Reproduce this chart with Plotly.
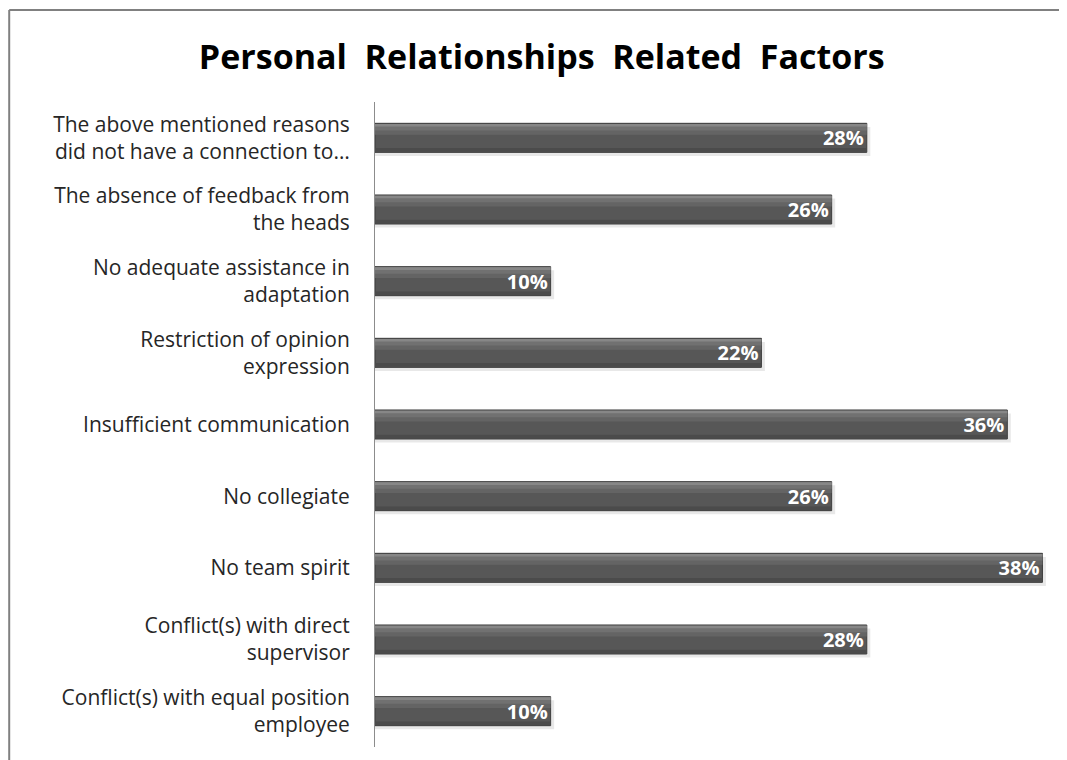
import plotly.graph_objects as go

categories = [
    "The above mentioned reasons<br>did not have a connection to…",
    "The absence of feedback from<br>the heads",
    "No adequate assistance in<br>adaptation",
    "Restriction of opinion<br>expression",
    "Insufficient communication",
    "No collegiate",
    "No team spirit",
    "Conflict(s) with direct<br>supervisor",
    "Conflict(s) with equal position<br>employee",
]
values = [28, 26, 10, 22, 36, 26, 38, 28, 10]
title_text = "Personal  Relationships  Related  Factors"

W = 0.405
FONT = "'Open Sans', 'Noto Sans', sans-serif"


def band(width, offset, color):
    return go.Bar(
        y=categories, x=values, orientation="h",
        width=width, offset=offset,
        marker=dict(color=color, line=dict(width=0)),
        hoverinfo="skip", showlegend=False,
    )


fig = go.Figure()
# soft shadow
fig.add_trace(go.Bar(
    y=categories, x=[v + 0.2 for v in values], orientation="h",
    width=W, offset=-W / 2 + 0.05,
    marker=dict(color="rgba(0,0,0,0.09)", line=dict(width=0)),
    hoverinfo="skip", showlegend=False,
))
# main bar
fig.add_trace(go.Bar(
    y=categories, x=values, orientation="h",
    width=W, offset=-W / 2,
    marker=dict(color="#575757", line=dict(color="#3c3c3c", width=1)),
    hoverinfo="skip", showlegend=False,
))
# bevel shading bands
fig.add_trace(band(0.15, -W / 2 + 0.01, "#646464"))
fig.add_trace(band(0.09, -W / 2 + 0.01, "#717171"))
fig.add_trace(band(0.035, -W / 2 + 0.01, "#878787"))
fig.add_trace(band(0.05, W / 2 - 0.06, "#4b4b4b"))
# value labels (taller invisible box so the text is not shrunk)
LW = 0.7
fig.add_trace(go.Bar(
    y=categories, x=values, orientation="h",
    width=LW, offset=-LW / 2,
    marker=dict(color="rgba(0,0,0,0)", line=dict(width=0)),
    text=[f"{v}%" for v in values], textposition="inside",
    insidetextanchor="end", textangle=0,
    textfont=dict(color="white", size=20, family=FONT, weight="bold"),
    hoverinfo="skip", showlegend=False,
))

TOP = 1 + 92 / 645
fig.update_layout(
    width=1059, height=752,
    barmode="overlay",
    paper_bgcolor="white", plot_bgcolor="white",
    margin=dict(l=367, r=7, t=94, b=13),
    title=dict(text=title_text, x=0.504, xanchor="center", y=1 - 49 / 752, yanchor="middle",
               font=dict(family=FONT, size=34, color="#000000", weight="bold")),
    xaxis=dict(range=[0, 39], visible=False, showgrid=False, zeroline=False),
    yaxis=dict(autorange="reversed", showline=True, linecolor="#8c8c8c", linewidth=1,
               ticks="", showgrid=False, ticklabelstandoff=20,
               tickfont=dict(family=FONT, size=21, color="#262626")),
    shapes=[
        dict(type="line", xref="paper", yref="paper", x0=-0.534, x1=1.2,
             y0=TOP, y1=TOP, line=dict(color="#808080", width=2)),
        dict(type="line", xref="paper", yref="paper", x0=-0.534, x1=-0.534,
             y0=-0.2, y1=TOP, line=dict(color="#808080", width=2)),
    ],
)

fig.write_html("out.html")
